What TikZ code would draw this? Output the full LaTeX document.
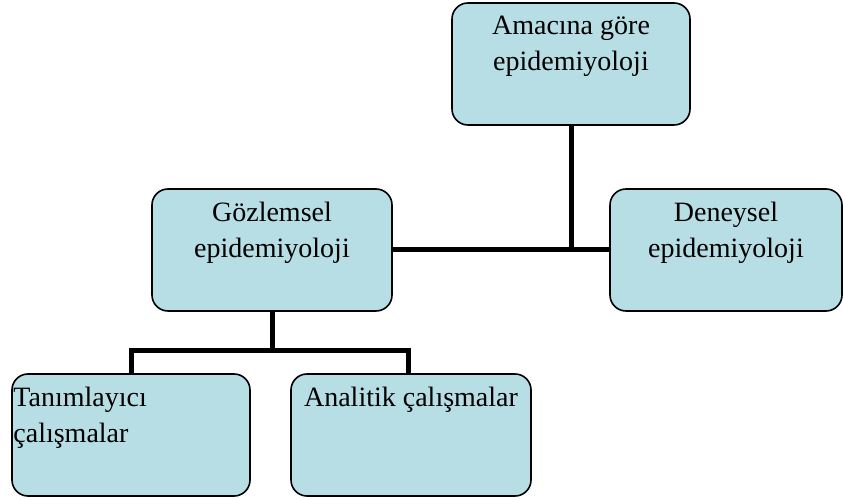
\documentclass[tikz,border=0pt]{standalone}
\usepackage{fontspec}
\setmainfont{Liberation Serif}
\usepackage{xcolor}
\usepackage{tikz}
\usetikzlibrary{positioning, calc}
\definecolor{boxaqua}{RGB}{183, 222, 228}

\tikzset{
    ebox/.style={draw=black, line width=1.6pt, fill=boxaqua, rounded corners=16pt, minimum height=122pt},
    etext/.style={anchor=north, align=center, inner xsep=2pt, inner ysep=14pt, font=\fontsize{28}{36}\selectfont},
    link/.style={line width=5pt}
}

\begin{document}
\begin{tikzpicture}[x=1pt, y=1pt]
        \useasboundingbox (0, 0) rectangle (843, 500);

        % Boxes
        \node[ebox, minimum width=238pt, label={[etext]north:Amacına göre\\epidemiyoloji}] (amac) at (571, 436) {};
        \node[ebox, minimum width=240pt, label={[etext]north:Gözlemsel\\epidemiyoloji}] (gozlem) at (272, 250) {};
        \node[ebox, minimum width=232pt, label={[etext]north:Deneysel\\epidemiyoloji}] (deney) at (726, 250) {};
        \node[ebox, minimum width=238pt, label={[etext, anchor=north west, align=left]north west:Tanımlayıcı\\çalışmalar}] (tanim) at (131, 65) {};
        \node[ebox, minimum width=240pt, label={[etext]north:Analitik çalışmalar}] (analit) at (411, 65) {};

        % Connectors
        \draw[link] (gozlem.east) -- (deney.west);
        \draw[link] (amac.south) -- (amac.south |- gozlem.east);
        \draw[link] (gozlem.south) -- ++(0, -39) coordinate (split);
        \draw[link] (tanim.north) |- (split) -| ($(analit.north) + (-3, 0)$);
    \end{tikzpicture}
\end{document}
